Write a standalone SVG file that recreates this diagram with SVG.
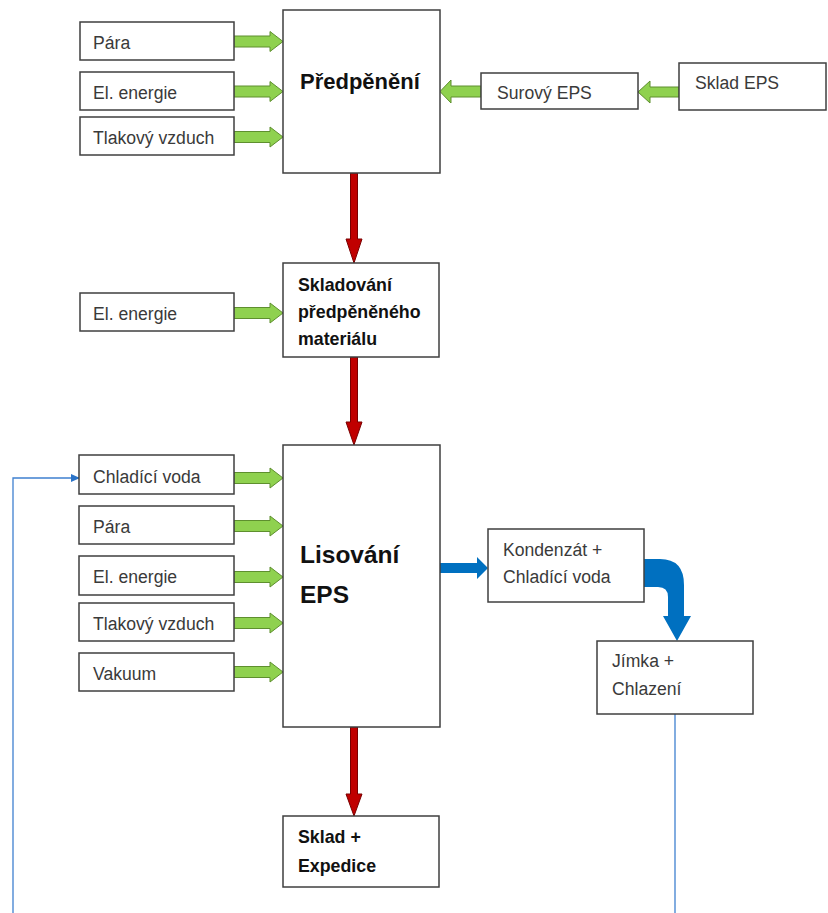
<svg xmlns="http://www.w3.org/2000/svg" width="828" height="913" viewBox="0 0 828 913">
<defs>
<style>
.box{fill:#fff;stroke:#3f3f3f;stroke-width:1.5}
.t{font-family:"Liberation Sans",Arial,sans-serif;font-size:17.6px;fill:#3a3a3a}
.b{font-family:"Liberation Sans",Arial,sans-serif;font-weight:bold;fill:#111}
.g{fill:#8fd14f;stroke:#5e8f2e;stroke-width:1}
.r{fill:#c00000;stroke:#7a0000;stroke-width:1}
.bl{fill:#0070c0}
.thin{fill:none;stroke:#3f80d0;stroke-width:1.3}
</style>
<marker id="ah" markerWidth="10" markerHeight="10" refX="9" refY="5" orient="auto" markerUnits="userSpaceOnUse">
<path d="M0,1 L9,5 L0,9 Z" fill="#2a73c8"/>
</marker>
</defs>
<rect width="828" height="913" fill="#fff"/>

<g id="connectors">
<polygon class="g" points="234,36 270,36 270,31.5 283,41.5 270,51.5 270,47 234,47"/>
<polygon class="g" points="234,86 270,86 270,81.5 283,91.5 270,101.5 270,97 234,97"/>
<polygon class="g" points="234,131.5 270,131.5 270,127 283,137 270,147 270,142.5 234,142.5"/>
<polygon class="g" points="481,86 451,86 451,80 440,91.5 451,103 451,97 481,97"/>
<polygon class="g" points="679,87 650,87 650,81 638,92 650,103 650,97 679,97"/>
<polygon class="g" points="234,307.5 270,307.5 270,303 283,313 270,323 270,318.5 234,318.5"/>
<polygon class="g" points="234,472.5 270,472.5 270,468 283,478 270,488 270,483.5 234,483.5"/>
<polygon class="g" points="234,520.5 270,520.5 270,516 283,526 270,536 270,531.5 234,531.5"/>
<polygon class="g" points="234,571.5 270,571.5 270,567 283,577 270,587 270,582.5 234,582.5"/>
<polygon class="g" points="234,617.5 270,617.5 270,613 283,623 270,633 270,628.5 234,628.5"/>
<polygon class="g" points="234,666.5 270,666.5 270,662 283,672 270,682 270,677.5 234,677.5"/>
<polygon class="r" points="350.5,173 357.5,173 357.5,239 362,239 354,263 346,239 350.5,239"/>
<polygon class="r" points="350.5,357 357.5,357 357.5,422 362,422 354,445 346,422 350.5,422"/>
<polygon class="r" points="350.5,727 357.5,727 357.5,794 362,794 354,816 346,794 350.5,794"/>
<polygon class="bl" points="440,563 477,563 477,557 488,568 477,579 477,573 440,573"/>
<path class="bl" d="M644,559 L660,559 Q684,559 684,585 L684,616 L691,616 L677,641 L663,616 L668,616 L668,597 Q668,587 658,587 L644,587 Z"/>
<polyline class="thin" points="13,913 13,478 80,478" marker-end="url(#ah)"/>
<line class="thin" x1="675" y1="714" x2="675" y2="913"/>
</g>

<g id="n-para1"><rect class="box" x="80" y="22" width="154" height="38"/><text class="t" x="93" y="49">Pára</text></g>
<g id="n-el1"><rect class="box" x="80" y="72" width="154" height="38"/><text class="t" x="93" y="99">El. energie</text></g>
<g id="n-tlak1"><rect class="box" x="80" y="117" width="154" height="38"/><text class="t" x="93" y="144">Tlakový vzduch</text></g>

<g id="n-predpeneni"><rect class="box" x="283" y="10" width="157" height="163"/><text class="b" x="300" y="89" font-size="22">Předpěnění</text></g>

<g id="n-surovy"><rect class="box" x="481" y="73" width="157" height="36"/><text class="t" x="497" y="99">Surový EPS</text></g>
<g id="n-skladeps"><rect class="box" x="679" y="63" width="147" height="47"/><text class="t" x="695" y="89">Sklad EPS</text></g>

<g id="n-el2"><rect class="box" x="80" y="293" width="154" height="38"/><text class="t" x="93" y="320">El. energie</text></g>

<g id="n-skladovani"><rect class="box" x="283" y="263" width="156" height="94"/>
<text class="b" font-size="17.8" x="298" y="291">Skladování</text>
<text class="b" font-size="17.8" x="298" y="318">předpěněného</text>
<text class="b" font-size="17.8" x="298" y="345">materiálu</text></g>

<g id="n-chlad"><rect class="box" x="79" y="455" width="155" height="39"/><text class="t" x="93" y="483">Chladící voda</text></g>
<g id="n-para2"><rect class="box" x="79" y="506" width="155" height="38"/><text class="t" x="93" y="533">Pára</text></g>
<g id="n-el3"><rect class="box" x="79" y="556" width="155" height="39"/><text class="t" x="93" y="583">El. energie</text></g>
<g id="n-tlak2"><rect class="box" x="79" y="603" width="155" height="38"/><text class="t" x="93" y="630">Tlakový vzduch</text></g>
<g id="n-vakuum"><rect class="box" x="79" y="653" width="155" height="38"/><text class="t" x="93" y="680">Vakuum</text></g>

<g id="n-lisovani"><rect class="box" x="283" y="445" width="157" height="282"/>
<text class="b" font-size="24.5" x="300" y="563">Lisování</text>
<text class="b" font-size="24.5" x="300" y="603">EPS</text></g>

<g id="n-kondenzat"><rect class="box" x="488" y="529" width="156" height="73"/>
<text class="t" x="503" y="556">Kondenzát +</text>
<text class="t" x="503" y="583">Chladící voda</text></g>

<g id="n-jimka"><rect class="box" x="597" y="641" width="156" height="73"/>
<text class="t" x="612" y="667">Jímka +</text>
<text class="t" x="612" y="695">Chlazení</text></g>

<g id="n-expedice"><rect class="box" x="283" y="816" width="156" height="71"/>
<text class="b" font-size="17.8" x="298" y="843">Sklad +</text>
<text class="b" font-size="17.8" x="298" y="872">Expedice</text></g>
</svg>
